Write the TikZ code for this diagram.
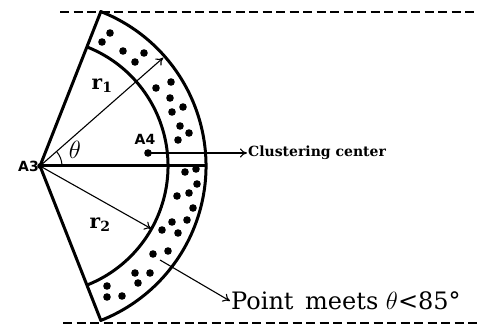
\documentclass[tikz,border=0pt]{standalone}
\usepackage{fontspec}
\setmainfont{DejaVu Serif}
\newfontfamily\labelfont{DejaVu Sans}
\usetikzlibrary{arrows.meta}

\begin{document}
\begin{tikzpicture}[x=1pt,y=1pt,
    edge/.style={line width=3pt,line join=round},
    ray/.style={line width=1.1pt,-{To[length=7pt,width=9pt]}},
    limit/.style={line width=2.6pt,dash pattern=on 9pt off 4.5pt},
    sample/.style={fill=black,radius=3.8pt},
    lbl/.style={font=\labelfont\bfseries\fontsize{14}{16}\selectfont,inner sep=1pt}]
  \useasboundingbox (0,0) rectangle (478,329);

  \coordinate (A3) at (40,163);
  \coordinate (A4) at (148,176);

  % sector with inner arc
  \path[draw,edge] (A3) -- ++(68.5:166) arc[start angle=68.5,end angle=-68.5,radius=166] -- cycle;
  \path[draw,edge] ([shift={(68.5:128)}]A3) arc[start angle=68.5,end angle=-68.5,radius=128];
  \path[draw,edge] (A3) -- ++(0:166) coordinate (rimend);

  % points between the arcs
  \foreach \px/\py in {110/296,102/287,123/278,144/276,135/267,156/241,171/247,170/231,
      183/222,172/217,180/203,189/196,178/189,185/157,196/160,197/145,177/133,189/136,
      193/121,172/107,187/109,162/99,178/96,153/75,168/78,135/56,150/56,138/46,
      107/43,107/32,122/33}
    \fill[sample] (\px,\py) circle;

  % radii and angle
  \coordinate (r1end) at ([shift={(41.3:164)}]A3);
  \coordinate (r2end) at ([shift={(-29.4:128)}]A3);
  \path[draw,ray] (A3) -- (r1end);
  \path[draw,ray] (A3) -- (r2end);
  \path[draw,line width=1pt] ([shift={(0:22)}]A3) arc[start angle=0,end angle=41.3,radius=22];
  \node (theta) at (75,179) {\fontsize{25}{28}\selectfont$\theta$};
  \node (r1) at (102,243) {\fontsize{20}{22}\selectfont\textbf{r}$_{\mathbf{1}}$};
  \node (r2) at (100,104) {\fontsize{20}{22}\selectfont\textbf{r}$_{\mathbf{2}}$};

  \fill (A3) circle[radius=2.8pt];
  \node[lbl,anchor=east] (A3lbl) at (A3) {A3};
  \fill (A4) circle[radius=3.8pt];
  \node[lbl] (A4lbl) at (145,190) {A4};

  % annotations
  \node[anchor=west,inner sep=1pt,font=\bfseries\fontsize{14}{16}\selectfont] (center) at (247,176) {Clustering center};
  \path[draw,ray] (A4) -- (center.west);
  \coordinate (pfrom) at (160,69);
  \node[anchor=west,inner sep=1pt,font=\fontsize{24}{28}\selectfont] (meets) at (230,28) {Point\, meets $\theta$<85°};
  \path[draw,ray] (pfrom) -- (meets.west);

  % limit lines
  \path[draw,limit] (60,317) -- (478,317);
  \path[draw,limit] (63,6) -- (478,6);
\end{tikzpicture}
\end{document}
